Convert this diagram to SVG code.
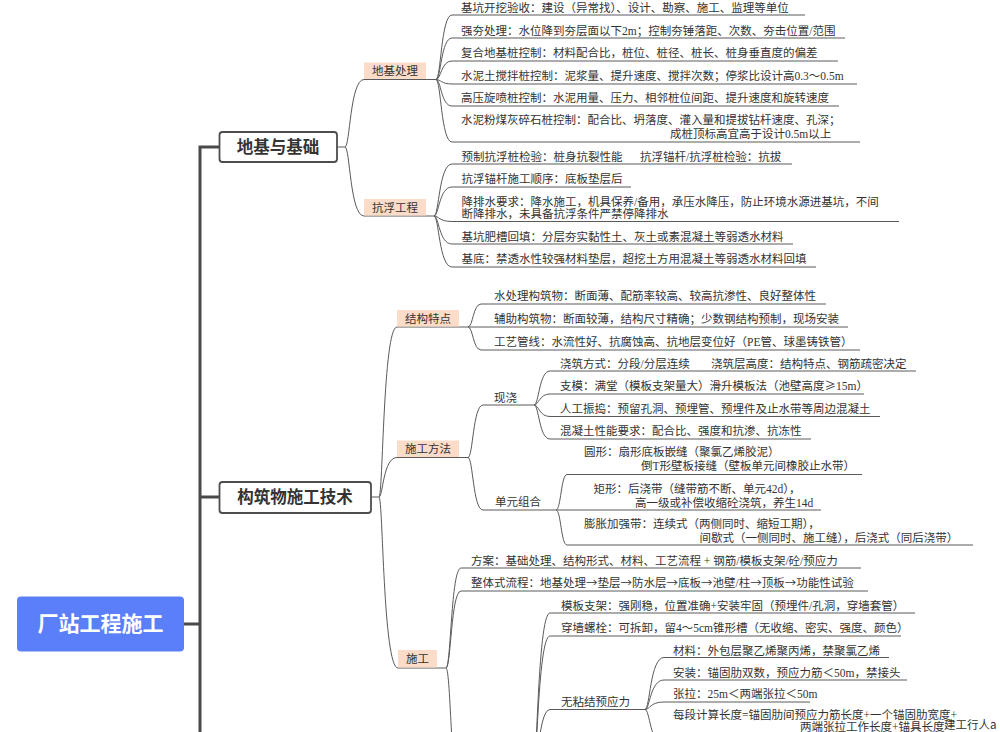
<svg xmlns="http://www.w3.org/2000/svg" width="1000" height="732" viewBox="0 0 1000 732">
<style>
.t{font-family:"Liberation Serif","Noto Sans CJK SC",serif;font-size:11.5px;fill:#333}
.lb{font-family:"Liberation Serif","Noto Sans CJK SC",serif;font-size:11.5px;fill:#333;text-anchor:middle}
.ar{font-family:"Noto Sans CJK SC",sans-serif}
.lr{fill:#fbdcc8}
.c{fill:none;stroke:#5a5a5a;stroke-width:1}
.k{fill:none;stroke:#4a4a4a;stroke-width:3}
.mb{fill:#fff;stroke:#4d4d4d;stroke-width:1.8}
.mt{font-family:"Noto Sans CJK SC",sans-serif;font-weight:700;font-size:16.5px;fill:#333;text-anchor:middle}
</style>
<rect width="1000" height="732" fill="#fff"/>
<g id="connectors">
<path class="k" d="M184,624 H200 M219,147 H200 V732 M200,497 H219"/>
<path class="c" d="M337,147 H345 M345,147 C350,147 350,79.5 364,79.5 H436 M345,147 C350,147 350,216 364,216 H434"/>
<path class="c" d="M436,79.5 C441,79.5 441,15 452,15 H805 M436,79.5 C441,79.5 441,38 452,38 H845 M436,79.5 C441,79.5 441,61 452,61 H838 M436,79.5 C441,79.5 441,84 452,84 H857 M436,79.5 C441,79.5 441,106 452,106 H839 M436,79.5 C441,79.5 441,142 452,142 H860"/>
<path class="c" d="M434,216 C439,216 439,164 452,164 H792 M434,216 C439,216 439,187 452,187 H631 M434,216 C439,216 439,221.5 452,221.5 H899 M434,216 C439,216 439,244 452,244 H793 M434,216 C439,216 439,267 452,267 H816"/>
<path class="c" d="M371,497 H379 M379,497 C383,497 383,327 397,327 H468 M379,497 C383,497 383,457.5 397,457.5 H468 M379,497 C383,497 383,668 398,668 H446"/>
<path class="c" d="M468,327 C473,327 473,304 481,304 H826 M468,327 H848 M468,327 C473,327 473,350 481,350 H860"/>
<path class="c" d="M468,457.5 C473,457.5 473,405 483,405 H534 M468,457.5 C473,457.5 473,510 483,510 H556"/>
<path class="c" d="M534,405 C539,405 539,371 550,371 H916 M534,405 C539,405 539,394 550,394 H864 M534,405 C539,405 539,416.5 550,416.5 H880 M534,405 C539,405 539,439 550,439 H811"/>
<path class="c" d="M556,510 C561,510 561,474.5 567,474.5 H862 M556,510 H821 M556,510 C561,510 561,545 567,545 H973"/>
<path class="c" d="M446,668 C451,668 451,568 461,568 H861 M446,668 C451,668 451,591 461,591 H868 M446,668 C451,668 451,800 461,800"/>
<path class="c" d="M532,790 C537,790 537,613 550,613 H915 M532,790 C537,790 537,636 550,636 H901 M532,790 C537,790 537,709.5 550,709.5 H645"/>
<path class="c" d="M645,709.5 C650,709.5 650,657.5 664,657.5 H889 M645,709.5 C650,709.5 650,680 664,680 H907 M645,709.5 C650,709.5 650,702 664,702 H810 M645,709.5 C650,709.5 650,745 664,745 H960"/>
</g>
<g id="root"><rect x="17" y="596.5" width="167" height="55" rx="4" fill="#5b7ff8"/><text x="100.5" y="631" font-family="Noto Sans CJK SC, sans-serif" font-weight="700" font-size="21" fill="#fff" text-anchor="middle">厂站工程施工</text></g>
<g id="n-dijiyujichu"><rect class="mb" x="219.5" y="132" width="117.5" height="30" rx="3"/><text class="mt" x="278" y="153">地基与基础</text></g>
<g id="n-gouzhuwu"><rect class="mb" x="219.5" y="482" width="151.5" height="31" rx="3"/><text class="mt" x="295" y="503">构筑物施工技术</text></g>
<g id="n-dijichuli"><rect class="lr" x="364" y="62.5" width="62" height="16.5"/><text class="lb" x="395" y="75">地基处理</text></g>
<g id="n-kangfu"><rect class="lr" x="364" y="199" width="62" height="16.5"/><text class="lb" x="395" y="212">抗浮工程</text></g>
<g id="n-jiegou"><rect class="lr" x="397" y="310" width="62" height="16.5"/><text class="lb" x="428" y="323">结构特点</text></g>
<g id="n-fangfa"><rect class="lr" x="397" y="440.5" width="62" height="16.5"/><text class="lb" x="428" y="453">施工方法</text></g>
<g id="n-shigong"><rect class="lr" x="398" y="650" width="39" height="17.5"/><text class="lb" x="417.5" y="663">施工</text></g>
<g id="n-a1"><text class="t" x="461" y="11.5">基坑开挖验收：建设（异常找）、设计、勘察、施工、监理等单位</text></g>
<g id="n-a2"><text class="t" x="461" y="34.5">强夯处理：水位降到夯层面以下2m；控制夯锤落距、次数、夯击位置/范围</text></g>
<g id="n-a3"><text class="t" x="461" y="56.5">复合地基桩控制：材料配合比，桩位、桩径、桩长、桩身垂直度的偏差</text></g>
<g id="n-a4"><text class="t" x="461" y="79.5">水泥土搅拌桩控制：泥浆量、提升速度、搅拌次数；停浆比设计高0.3～0.5m</text></g>
<g id="n-a5"><text class="t" x="461" y="101.5">高压旋喷桩控制：水泥用量、压力、相邻桩位间距、提升速度和旋转速度</text></g>
<g id="n-a6"><text class="t" x="461" y="123.5">水泥粉煤灰碎石桩控制：配合比、坍落度、灌入量和提拔钻杆速度、孔深；</text><text class="t" x="670" y="137.5">成桩顶标高宜高于设计0.5m以上</text></g>
<g id="n-b1"><text class="t" x="461.5" y="160.5">预制抗浮桩检验：桩身抗裂性能</text><text class="t" x="640" y="160.5">抗浮锚杆/抗浮桩检验：抗拔</text></g>
<g id="n-b2"><text class="t" x="461.5" y="182.5">抗浮锚杆施工顺序：底板垫层后</text></g>
<g id="n-b3"><text class="t" x="461.5" y="205.5">降排水要求：降水施工，机具保养/备用，承压水降压，防止环境水源进基坑，不间</text><text class="t" x="461.5" y="217.5">断降排水，未具备抗浮条件严禁停降排水</text></g>
<g id="n-b4"><text class="t" x="461.5" y="240.5">基坑肥槽回填：分层夯实黏性土、灰土或素混凝土等弱透水材料</text></g>
<g id="n-b5"><text class="t" x="461.5" y="262.5">基底：禁透水性较强材料垫层，超挖土方用混凝土等弱透水材料回填</text></g>
<g id="n-c1"><text class="t" x="494" y="299.5">水处理构筑物：断面薄、配筋率较高、较高抗渗性、良好整体性</text></g>
<g id="n-c2"><text class="t" x="494" y="322.5">辅助构筑物：断面较薄，结构尺寸精确；少数钢结构预制，现场安装</text></g>
<g id="n-c3"><text class="t" x="494" y="345.5">工艺管线：水流性好、抗腐蚀高、抗地层变位好（PE管、球墨铸铁管）</text></g>
<g id="n-xianjiao"><text class="t" x="494" y="401.5">现浇</text></g>
<g id="n-d1"><text class="t" x="560" y="367.5">浇筑方式：分段/分层连续</text><text class="t" x="711" y="367.5">浇筑层高度：结构特点、钢筋疏密决定</text></g>
<g id="n-d2"><text class="t" x="560" y="389.5">支模：满堂（模板支架量大）滑升模板法（池壁高度<tspan class="ar">≥</tspan>15m）</text></g>
<g id="n-d3"><text class="t" x="560" y="412.5">人工振捣：预留孔洞、预埋管、预埋件及止水带等周边混凝土</text></g>
<g id="n-d4"><text class="t" x="560" y="435">混凝土性能要求：配合比、强度和抗渗、抗冻性</text></g>
<g id="n-danyuan"><text class="t" x="495" y="506">单元组合</text></g>
<g id="n-e1"><text class="t" x="584" y="456">圆形：扇形底板嵌缝（聚氯乙烯胶泥）</text><text class="t" x="641" y="469.5">倒T形壁板接缝（壁板单元间橡胶止水带）</text></g>
<g id="n-e2"><text class="t" x="593.5" y="493">矩形：后浇带（缝带筋不断、单元42d），</text><text class="t" x="635" y="506.5">高一级或补偿收缩砼浇筑，养生14d</text></g>
<g id="n-e3"><text class="t" x="584" y="528">膨胀加强带：连续式（两侧同时、缩短工期），</text><text class="t" x="699.5" y="541.5">间歇式（一侧同时、施工缝），后浇式（同后浇带）</text></g>
<g id="n-f1"><text class="t" x="471" y="564.5">方案：基础处理、结构形式、材料、工艺流程 + 钢筋/模板支架/砼/预应力</text></g>
<g id="n-f2"><text class="t" x="471" y="586.5">整体式流程：地基处理<tspan class="ar">→</tspan>垫层<tspan class="ar">→</tspan>防水层<tspan class="ar">→</tspan>底板<tspan class="ar">→</tspan>池壁/柱<tspan class="ar">→</tspan>顶板<tspan class="ar">→</tspan>功能性试验</text></g>
<g id="n-g1"><text class="t" x="561" y="609.5">模板支架：强刚稳，位置准确+安装牢固（预埋件/孔洞，穿墙套管）</text></g>
<g id="n-g2"><text class="t" x="561" y="631.5">穿墙螺栓：可拆卸，留4～5cm锥形槽（无收缩、密实、强度、颜色）</text></g>
<g id="n-wunianjie"><text class="t" x="561" y="705.5">无粘结预应力</text></g>
<g id="n-h1"><text class="t" x="673" y="654.5">材料：外包层聚乙烯聚丙烯，禁聚氯乙烯</text></g>
<g id="n-h2"><text class="t" x="673" y="676.5">安装：锚固肋双数，预应力筋＜50m，禁接头</text></g>
<g id="n-h3"><text class="t" x="673" y="697.5">张拉：25m＜两端张拉＜50m</text></g>
<g id="n-h4"><text class="t" x="673" y="719">每段计算长度=锚固肋间预应力筋长度+一个锚固肋宽度+</text><text class="t" x="800" y="731">两端张拉工作长度+锚具长度</text></g>
<g id="watermark"><text x="944" y="729" font-family="Noto Sans CJK SC, sans-serif" font-size="11.5" fill="#333">建工行人a</text></g>
</svg>
